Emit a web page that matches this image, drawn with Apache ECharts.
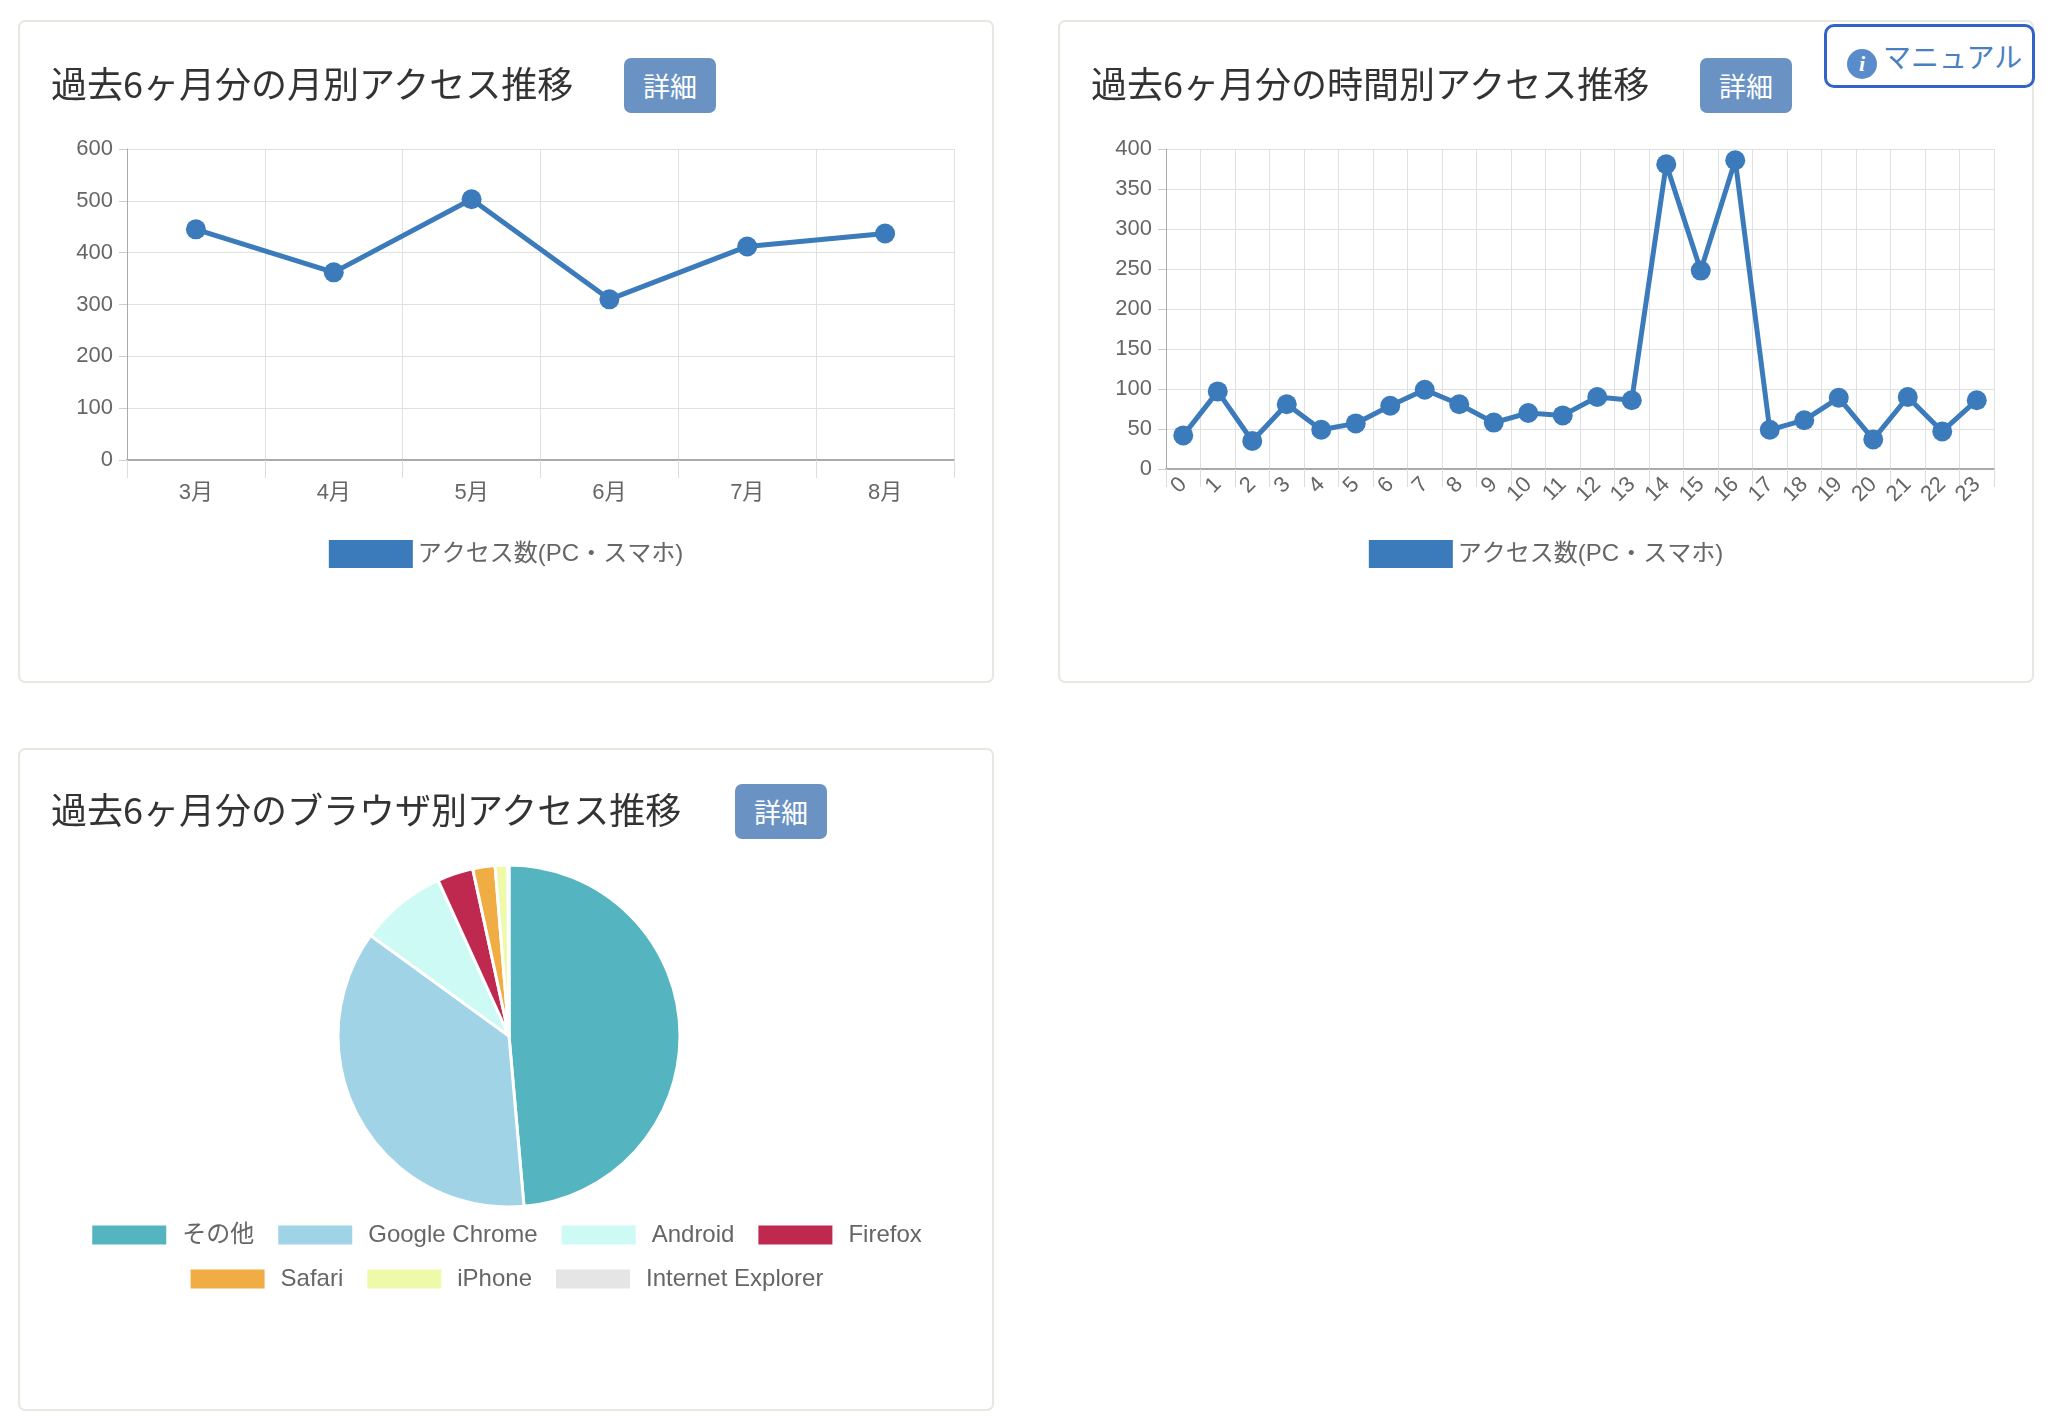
<!DOCTYPE html>
<html>
<head>
<meta charset="utf-8">
<script src="https://cdn.jsdelivr.net/npm/echarts@6/dist/echarts.min.js"></script>
<style>
  body { margin: 0; width: 2050px; height: 1422px; background: #fff; position: relative;
    font-family: "Noto Sans CJK JP", "Noto Sans", sans-serif; }
  .panel { position: absolute; width: 976px; height: 663px; border: 2px solid #e8e8e0; border-radius: 7px; box-sizing: border-box; }
  .chart { position: absolute; left: 0; top: 0; width: 100%; height: 100%; }
  .title { position: absolute; font-size: 36px; color: #333; z-index: 2; line-height: 40px; }
  .btn { position: absolute; width: 92px; height: 55px; background: #6a93c4; color: #fff; border-radius: 7px;
    font-size: 27px; text-align: center; line-height: 55px; z-index: 2; }
  .manual { position: absolute; left: 1824px; top: 24px; width: 211px; height: 64px; box-sizing: border-box;
    border: 3px solid #3362c9; border-radius: 10px; color: #4a7fc0; font-size: 28px; line-height: 58px; padding-left: 20px; background: #fff; z-index: 3; }
  .manual i { display: inline-block; width: 30px; height: 30px; border-radius: 50%; background: #5a8ccc; color: #fff;
    font-size: 22px; line-height: 30px; text-align: center; font-family: serif; font-weight: bold; vertical-align: -3px; margin-right: 6px; }
</style>
</head>
<body>
<div class="panel" style="left:18px;top:20px">
  <div class="title" style="left:31px;top:40px">過去6ヶ月分の月別アクセス推移</div>
  <div class="btn" style="left:604px;top:36px">詳細</div>
  <div class="chart" id="monthChart"></div>
</div>
<div class="panel" style="left:1058px;top:20px">
  <div class="title" style="left:31px;top:40px">過去6ヶ月分の時間別アクセス推移</div>
  <div class="btn" style="left:640px;top:36px">詳細</div>
  <div class="chart" id="hourChart"></div>
</div>
<div class="manual"><i>i</i>マニュアル</div>
<div class="panel" style="left:18px;top:748px">
  <div class="title" style="left:31px;top:38px">過去6ヶ月分のブラウザ別アクセス推移</div>
  <div class="btn" style="left:715px;top:34px">詳細</div>
  <div class="chart" id="browserChart"></div>
</div>
<script>
var seriesName = 'アクセス数(PC・スマホ)';
var months = ['3月', '4月', '5月', '6月', '7月', '8月'];
var monthValues = [445, 362, 503, 310, 412, 437];
var hours = ['0','1','2','3','4','5','6','7','8','9','10','11','12','13','14','15','16','17','18','19','20','21','22','23'];
var hourValues = [42, 97, 35, 81, 49, 57, 79, 99, 81, 58, 70, 67, 90, 86, 381, 248, 386, 49, 61, 89, 37, 90, 47, 86];
var browsers = ['その他', 'Google Chrome', 'Android', 'Firefox', 'Safari', 'iPhone', 'Internet Explorer'];
var browserValues = [486, 364, 82, 34, 21, 12, 1];
var browserColors = ['#54b4bf', '#a0d3e5', '#cdfaf4', '#c0294f', '#f0ad44', '#eefaaa', '#e5e5e5'];

var lineColor = '#3b7bbb';
var font = '"Liberation Sans", "Noto Sans CJK JP", sans-serif';

function lineOption(cats, values, grid, yMax, yInterval, rotate) {
  return {
    animation: false,
    textStyle: { fontFamily: font },
    grid: grid,
    legend: {
      top: 513, left: 'center', itemWidth: 84, itemHeight: 28, itemGap: 10,
      icon: 'rect', data: [seriesName],
      textStyle: { fontSize: 24, color: '#666', fontFamily: font }
    },
    xAxis: {
      type: 'category', data: cats, boundaryGap: true,
      axisLine: { lineStyle: { color: '#aaa', width: 2 } },
      axisTick: { show: true, length: 18, lineStyle: { color: '#ddd' } },
      splitLine: { show: true, lineStyle: { color: '#e0e0e0' } },
      axisLabel: { fontSize: 22, color: '#666', margin: rotate ? 12 : 22, rotate: rotate, interval: 0 }
    },
    yAxis: {
      type: 'value', min: 0, max: yMax, interval: yInterval,
      axisLine: { show: true, lineStyle: { color: '#aaa' } },
      axisTick: { show: true, length: 8, lineStyle: { color: '#ccc' } },
      splitLine: { lineStyle: { color: '#e0e0e0' } },
      axisLabel: { fontSize: 22, color: '#666', margin: 14 }
    },
    series: [{
      name: seriesName, type: 'line', data: values,
      symbol: 'circle', symbolSize: 20,
      lineStyle: { color: lineColor, width: 5 },
      itemStyle: { color: lineColor }
    }]
  };
}

var monthChart = echarts.init(document.getElementById('monthChart'));
monthChart.setOption(lineOption(months, monthValues, { left: 107, right: 38, top: 127, bottom: 221 }, 600, 100, 0));

var hourChart = echarts.init(document.getElementById('hourChart'));
hourChart.setOption(lineOption(hours, hourValues, { left: 106, right: 38, top: 127, bottom: 212 }, 400, 50, 45));

function pieLegend(names, top) {
  return {
    top: top, left: 'center', itemWidth: 76, itemHeight: 21, itemGap: 22,
    icon: 'rect', data: names,
    textStyle: { fontSize: 24, color: '#666', fontFamily: font, padding: [0, 0, 0, 10] }
  };
}

var browserChart = echarts.init(document.getElementById('browserChart'));
browserChart.setOption({
  animation: false,
  textStyle: { fontFamily: font },
  legend: [pieLegend(browsers.slice(0, 4), 468), pieLegend(browsers.slice(4), 512)],
  series: [{
    type: 'pie', center: [489, 286], radius: 171, startAngle: 90, clockwise: true,
    label: { show: false }, labelLine: { show: false },
    itemStyle: { borderColor: '#fff', borderWidth: 3 },
    data: browsers.map(function(name, i) {
      return { name: name, value: browserValues[i], itemStyle: { color: browserColors[i] } };
    })
  }]
});
</script>
</body>
</html>
